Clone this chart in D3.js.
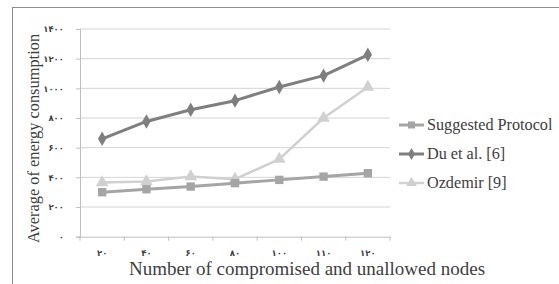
<!DOCTYPE html>
<html>
<head>
<meta charset="UTF-8">
<script src="https://d3js.org/d3.v7.min.js"></script>
<style>
  body { margin: 0; background: #fff; }
  svg { display: block; font-family: "Liberation Serif", "DejaVu Serif", serif; }
</style>
</head>
<body>
<svg width="559" height="284"></svg>
<script>
const categories = ["20", "40", "60", "80", "100", "110", "120"];
const categoryLabels = ["۲۰", "۴۰", "۶۰", "۸۰", "۱۰۰", "۱۱۰", "۱۲۰"];
const yTicks = [0, 200, 400, 600, 800, 1000, 1200, 1400];
const yTickLabels = ["۰", "۲۰۰", "۴۰۰", "۶۰۰", "۸۰۰", "۱۰۰۰", "۱۲۰۰", "۱۴۰۰"];

const suggested = [300, 320, 338, 361, 383, 405, 428];
const du = [660, 777, 856, 917, 1009, 1086, 1226];
const ozdemir = [365, 372, 405, 388, 523, 800, 1009];

const series = [
  { name: "Suggested Protocol", values: suggested, color: "#a5a5a5", width: 3, marker: "square" },
  { name: "Du et al. [6]", values: du, color: "#7f7f7f", width: 3, marker: "diamond" },
  { name: "Ozdemir [9]", values: ozdemir, color: "#d0d0d0", width: 2.5, marker: "triangle" }
];

const svg = d3.select("svg");
const plotLeft = 80, plotRight = 390, plotTop = 29, plotBottom = 236.7;

// cadre
svg.append("rect")
  .attr("x", 12.5).attr("y", 7.5)
  .attr("width", 560).attr("height", 290)
  .attr("fill", "none").attr("stroke", "#8c8c8c").attr("stroke-width", 1);

const x = d3.scaleBand().domain(categories).range([plotLeft, plotRight]);
const y = d3.scaleLinear().domain([0, 1400]).range([plotBottom, plotTop]);

// grille
svg.append("g").selectAll("line")
  .data(yTicks.filter(d => d > 0))
  .join("line")
    .attr("x1", plotLeft).attr("x2", plotRight)
    .attr("y1", d => y(d)).attr("y2", d => y(d))
    .attr("stroke", "#d4d4d4").attr("stroke-width", 1);

// axe Y
const yAxis = svg.append("g")
  .attr("transform", `translate(${plotLeft},0)`)
  .call(d3.axisLeft(y).tickValues(yTicks).tickSize(4)
    .tickFormat((d, i) => yTickLabels[i]));
yAxis.select(".domain").attr("stroke", "#bfbfbf");
yAxis.selectAll(".tick line").attr("stroke", "#bfbfbf");
yAxis.selectAll(".tick text")
  .attr("x", -16)
  .attr("fill", "#404040")
  .style("font-family", "'DejaVu Sans', sans-serif")
  .style("font-weight", "bold")
  .style("font-size", "8.5px");

// axe X
const xAxis = svg.append("g")
  .attr("transform", `translate(0,${plotBottom})`)
  .call(d3.axisBottom(x).tickSize(0).tickFormat((d, i) => categoryLabels[i]));
xAxis.select(".domain").attr("stroke", "#bfbfbf");
xAxis.selectAll(".tick text")
  .attr("y", 13)
  .attr("fill", "#404040")
  .style("font-family", "'DejaVu Sans', sans-serif")
  .style("font-weight", "bold")
  .style("font-size", "8.5px");
svg.append("g").selectAll("line")
  .data(categories.concat(["end"]))
  .join("line")
    .attr("x1", (d, i) => plotLeft + i * x.bandwidth())
    .attr("x2", (d, i) => plotLeft + i * x.bandwidth())
    .attr("y1", plotBottom).attr("y2", plotBottom + 4)
    .attr("stroke", "#bfbfbf");

const cx = d => x(d) + x.bandwidth() / 2;

const symbolType = { square: d3.symbolSquare, diamond: d3.symbolDiamond, triangle: d3.symbolTriangle };
const symbolSize = { square: 70, diamond: 60, triangle: 70 };

const line = d3.line().x((d, i) => cx(categories[i])).y(d => y(d));

// ordre de dessin : Ozdemir, Suggested, Du
[series[2], series[0], series[1]].forEach(s => {
  svg.append("path")
    .datum(s.values)
    .attr("d", line)
    .attr("fill", "none")
    .attr("stroke", s.color)
    .attr("stroke-width", s.width)
    .attr("stroke-linejoin", "round");
  svg.append("g").selectAll("path")
    .data(s.values)
    .join("path")
      .attr("transform", (d, i) => `translate(${cx(categories[i])},${y(d)})`)
      .attr("d", d3.symbol().type(symbolType[s.marker]).size(symbolSize[s.marker]))
      .attr("fill", s.color);
});

// légende
const legendY = [125, 154, 183];
series.forEach((s, i) => {
  const row = svg.append("g").attr("transform", `translate(399,${legendY[i]})`);
  row.append("line")
    .attr("x1", 0).attr("x2", 25)
    .attr("stroke", s.color).attr("stroke-width", s.width);
  row.append("path")
    .attr("transform", "translate(12.5,0)")
    .attr("d", d3.symbol().type(symbolType[s.marker]).size(symbolSize[s.marker] * 0.7))
    .attr("fill", s.color);
  row.append("text")
    .attr("x", 28).attr("y", 5)
    .attr("fill", "#404040")
    .style("font-size", "16.2px")
    .text(s.name);
});

// titres
svg.append("text")
  .attr("transform", `translate(39,138.5) rotate(-90)`)
  .attr("text-anchor", "middle")
  .attr("fill", "#404040")
  .style("font-size", "16.4px")
  .text("Average of energy consumption");

svg.append("text")
  .attr("x", 307).attr("y", 275)
  .attr("text-anchor", "middle")
  .attr("fill", "#404040")
  .style("font-size", "19px")
  .text("Number of compromised and unallowed nodes");
</script>
</body>
</html>
